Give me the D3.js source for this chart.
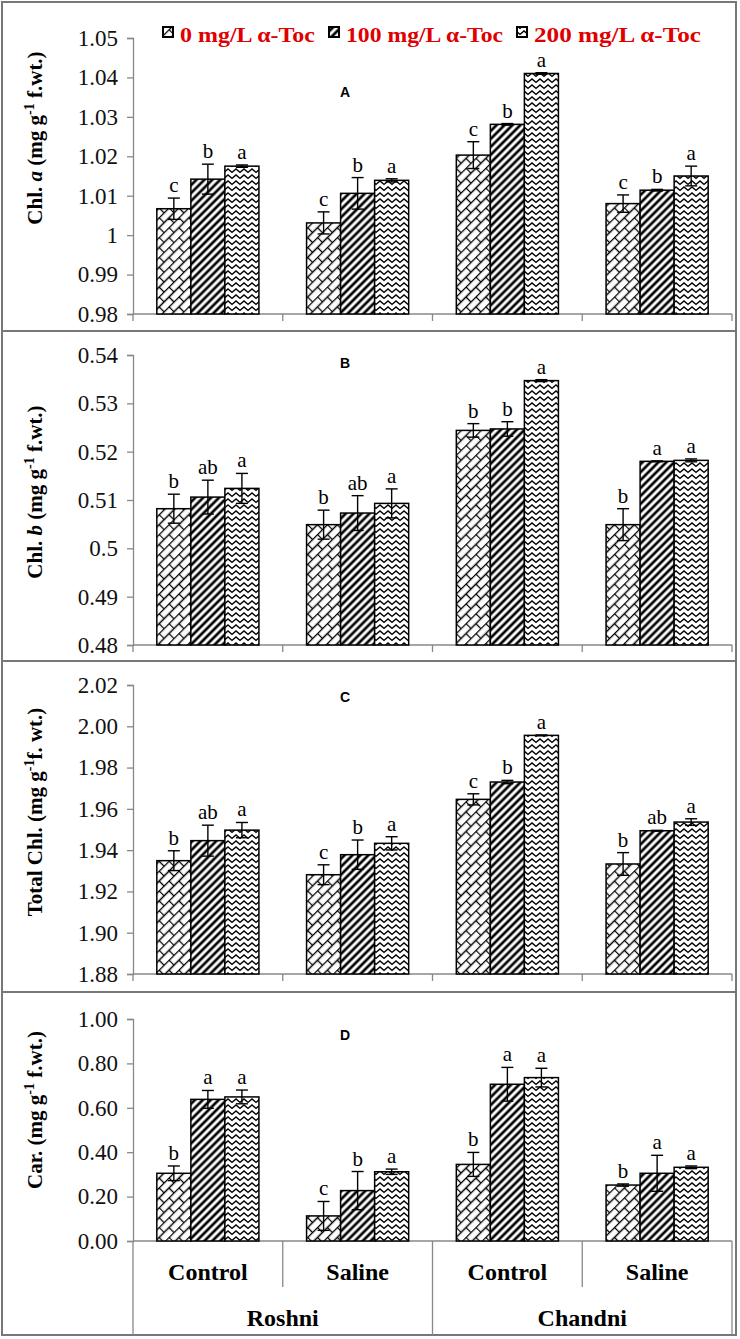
<!DOCTYPE html>
<html>
<head>
<meta charset="utf-8">
<script src="https://cdn.jsdelivr.net/npm/d3@7"></script>
<style>
  body { margin: 0; background: #fff; }
  svg text { font-family: "Liberation Serif", "Times New Roman", Times, "DejaVu Serif", serif; }
  svg text.sans { font-family: "Liberation Sans", Arial, sans-serif; }
</style>
</head>
<body>
<div id="chart"></div>
<script>
// categories
const groups = ['Roshni', 'Chandni'];
const conditions = ['Control', 'Saline', 'Control', 'Saline'];
const doses = ['0 mg/L α-Toc', '100 mg/L α-Toc', '200 mg/L α-Toc'];

// A: Chl. a
const chlA = [[1.0067, 1.0142, 1.0175], [1.0031, 1.0106, 1.0139], [1.0203, 1.0281, 1.0410], [1.0080, 1.0114, 1.0150]];
const chlAErr = [[0.0027, 0.0038, 0.0003], [0.0028, 0.0040, 0.0004], [0.0034, 0.0002, 0.0002], [0.0022, 0.0002, 0.0025]];
const chlALetters = [['c', 'b', 'a'], ['c', 'b', 'a'], ['c', 'b', 'a'], ['c', 'b', 'a']];
const ticksA = ['0.98', '0.99', '1', '1.01', '1.02', '1.03', '1.04', '1.05'];

// B: Chl. b
const chlB = [[0.5082, 0.5106, 0.5124], [0.5049, 0.5073, 0.5093], [0.5244, 0.5247, 0.5347], [0.5049, 0.5180, 0.5182]];
const chlBErr = [[0.0030, 0.0035, 0.0031], [0.0030, 0.0036, 0.0030], [0.0014, 0.0015, 0.0002], [0.0033, 0.0001, 0.0003]];
const chlBLetters = [['b', 'ab', 'a'], ['b', 'ab', 'a'], ['b', 'b', 'a'], ['b', 'a', 'a']];
const ticksB = ['0.48', '0.49', '0.5', '0.51', '0.52', '0.53', '0.54'];

// C: Total Chl.
const chlT = [[1.9349, 1.9446, 1.9497], [1.9281, 1.9378, 1.9433], [1.9646, 1.9730, 1.9956], [1.9333, 1.9494, 1.9536]];
const chlTErr = [[0.0048, 0.0075, 0.0037], [0.0048, 0.0071, 0.0032], [0.0027, 0.0008, 0.0002], [0.0055, 0.0002, 0.0016]];
const chlTLetters = [['b', 'ab', 'a'], ['c', 'b', 'a'], ['c', 'b', 'a'], ['b', 'ab', 'a']];
const ticksC = ['1.88', '1.90', '1.92', '1.94', '1.96', '1.98', '2.00', '2.02'];

// D: Carotenoids
const car = [[0.305, 0.638, 0.649], [0.113, 0.227, 0.312], [0.345, 0.706, 0.736], [0.252, 0.305, 0.332]];
const carErr = [[0.033, 0.040, 0.031], [0.065, 0.086, 0.012], [0.054, 0.076, 0.042], [0.005, 0.081, 0.006]];
const carLetters = [['b', 'a', 'a'], ['c', 'b', 'a'], ['b', 'a', 'a'], ['b', 'a', 'a']];
const ticksD = ['0.00', '0.20', '0.40', '0.60', '0.80', '1.00'];

const W = 740, H = 1339;
const x0 = 133, x1 = 732;
const patterns = ['brick', 'diag', 'zig'];

const panels = [
  {title: 'A', values: chlA, errors: chlAErr, letters: chlALetters, ticks: ticksA,
   top: 38, bottom: 314, titleY: 97, labelY: 138,
   label: [['Chl. ', ''], ['a', 'italic'], [' (mg g', ''], ['-1', 'sup'], [' f.wt.)', '']]},
  {title: 'B', values: chlB, errors: chlBErr, letters: chlBLetters, ticks: ticksB,
   top: 355, bottom: 645, titleY: 368, labelY: 492,
   label: [['Chl. ', ''], ['b', 'italic'], [' (mg g', ''], ['-1', 'sup'], [' f.wt.)', '']]},
  {title: 'C', values: chlT, errors: chlTErr, letters: chlTLetters, ticks: ticksC,
   top: 685, bottom: 974, titleY: 702, labelY: 812,
   label: [['Total Chl. (mg g', ''], ['-1', 'sup'], ['f. wt.)', '']]},
  {title: 'D', values: car, errors: carErr, letters: carLetters, ticks: ticksD,
   top: 1019, bottom: 1241, titleY: 1040, labelY: 1110,
   label: [['Car. (mg g', ''], ['-1', 'sup'], [' f.wt.)', '']]}
];

const svg = d3.select('#chart').append('svg')
    .attr('width', W)
    .attr('height', H);

// fill patterns
const defs = svg.append('defs');
const brick = defs.append('pattern')
    .attr('id', 'brick')
    .attr('patternUnits', 'userSpaceOnUse')
    .attr('width', 14).attr('height', 14)
    .attr('patternTransform', 'rotate(-45)');
brick.append('rect').attr('width', 14).attr('height', 14).attr('fill', '#fff');
brick.append('path')
    .attr('d', 'M0,0.5H14M0,7.5H14M0.5,0.5V7.5M7.5,7.5V14')
    .attr('stroke', '#000').attr('stroke-width', 1.3).attr('fill', 'none');

const diag = defs.append('pattern')
    .attr('id', 'diag')
    .attr('patternUnits', 'userSpaceOnUse')
    .attr('width', 5.6).attr('height', 5.6)
    .attr('patternTransform', 'rotate(45)');
diag.append('rect').attr('width', 5.6).attr('height', 5.6).attr('fill', '#fff');
diag.append('line')
    .attr('x1', 2.8).attr('x2', 2.8).attr('y1', 0).attr('y2', 5.6)
    .attr('stroke', '#000').attr('stroke-width', 2.7);

const zig = defs.append('pattern')
    .attr('id', 'zig')
    .attr('patternUnits', 'userSpaceOnUse')
    .attr('width', 8).attr('height', 6);
zig.append('rect').attr('width', 8).attr('height', 6).attr('fill', '#fff');
zig.append('path')
    .attr('d', 'M-1,5.2L4,1L9,5.2')
    .attr('stroke', '#000').attr('stroke-width', 1.5).attr('fill', 'none');

// frame and panel separators
svg.append('rect')
    .attr('x', 2).attr('y', 2).attr('width', 734).attr('height', 1333)
    .attr('fill', 'none').attr('stroke', '#777').attr('stroke-width', 2);
svg.selectAll('.sep')
    .data([331, 661, 992])
  .enter()
    .append('line')
    .attr('x1', 2).attr('x2', 736)
    .attr('y1', d => d).attr('y2', d => d)
    .attr('stroke', '#777').attr('stroke-width', 2);

const xCat = d3.scaleBand().domain(d3.range(conditions.length)).range([x0, x1]);
const xDose = d3.scaleBand().domain(d3.range(doses.length))
    .range([0, xCat.bandwidth()]).paddingInner(0).paddingOuter(0.7);

panels.forEach((p, pi) => {
  const tickVals = p.ticks.map(Number);
  const y = d3.scaleLinear().domain(d3.extent(tickVals)).range([p.bottom, p.top]);
  const g = svg.append('g');

  // y axis
  const yAxis = g.append('g')
      .attr('transform', `translate(${x0},0)`)
      .call(d3.axisLeft(y).tickValues(tickVals).tickFormat((d, i) => p.ticks[i]).tickSize(6).tickPadding(9));
  yAxis.attr('font-family', null);
  yAxis.select('.domain').attr('stroke', '#888').attr('stroke-width', 1.3);
  yAxis.selectAll('.tick line').attr('stroke', '#888').attr('stroke-width', 1.3);
  yAxis.selectAll('.tick text')
      .attr('font-size', 23)
      .attr('fill', '#111');

  // x axis line
  g.append('line')
      .attr('x1', x0).attr('x2', x1)
      .attr('y1', p.bottom).attr('y2', p.bottom)
      .attr('stroke', '#888').attr('stroke-width', 1.3);

  if (pi < 3) {
    g.selectAll('.xtick')
        .data(d3.range(conditions.length + 1))
      .enter()
        .append('line')
        .attr('x1', d => x0 + d * xCat.step()).attr('x2', d => x0 + d * xCat.step())
        .attr('y1', p.bottom).attr('y2', p.bottom + 7)
        .attr('stroke', '#888').attr('stroke-width', 1.3);
  }

  // bars
  const rows = [];
  p.values.forEach((vals, ci) => vals.forEach((v, di) => {
    rows.push({ci, di, v, e: p.errors[ci][di], l: p.letters[ci][di]});
  }));
  const bx = d => xCat(d.ci) + xDose(d.di);
  const bw = xDose.bandwidth();

  g.selectAll('.bar')
      .data(rows)
    .enter()
      .append('rect')
      .attr('x', bx)
      .attr('y', d => y(d.v))
      .attr('width', bw)
      .attr('height', d => p.bottom - y(d.v))
      .attr('fill', d => `url(#${patterns[d.di]})`)
      .attr('stroke', '#000').attr('stroke-width', 1.5);

  // error bars
  const eb = g.selectAll('.err')
      .data(rows)
    .enter()
      .append('g');
  eb.append('line')
      .attr('x1', d => bx(d) + bw / 2).attr('x2', d => bx(d) + bw / 2)
      .attr('y1', d => y(d.v + d.e)).attr('y2', d => y(d.v - d.e));
  eb.append('line')
      .attr('x1', d => bx(d) + bw / 2 - 6).attr('x2', d => bx(d) + bw / 2 + 6)
      .attr('y1', d => y(d.v + d.e)).attr('y2', d => y(d.v + d.e));
  eb.append('line')
      .attr('x1', d => bx(d) + bw / 2 - 6).attr('x2', d => bx(d) + bw / 2 + 6)
      .attr('y1', d => y(d.v - d.e)).attr('y2', d => y(d.v - d.e));
  eb.selectAll('line').attr('stroke', '#000').attr('stroke-width', 1.4);

  // significance letters
  g.selectAll('.sig')
      .data(rows)
    .enter()
      .append('text')
      .attr('x', d => bx(d) + bw / 2)
      .attr('y', d => y(d.v + d.e) - 6)
      .attr('text-anchor', 'middle')
      .attr('font-size', 21)
      .text(d => d.l);

  // panel title
  g.append('text')
      .attr('class', 'sans')
      .attr('x', 345).attr('y', p.titleY)
      .attr('text-anchor', 'middle')
      .attr('font-weight', 'bold')
      .attr('font-size', 14)
      .text(p.title);

  // y label
  const lab = g.append('text')
      .attr('transform', `translate(42,${p.labelY}) rotate(-90)`)
      .attr('text-anchor', 'middle')
      .attr('font-weight', 'bold')
      .attr('font-size', 21);
  let prevSup = false;
  p.label.forEach(([t, s]) => {
    const ts = lab.append('tspan').text(t);
    if (s === 'italic') ts.attr('font-style', 'italic');
    if (s === 'sup') ts.attr('font-size', 14).attr('dy', -8);
    else if (prevSup) ts.attr('dy', 8);
    prevSup = s === 'sup';
  });

  // category axis on the last panel
  if (pi === 3) {
    g.selectAll('.catline')
        .data(d3.range(conditions.length + 1))
      .enter()
        .append('line')
        .attr('x1', d => x0 + d * xCat.step()).attr('x2', d => x0 + d * xCat.step())
        .attr('y1', p.bottom)
        .attr('y2', d => d % 2 === 0 ? 1335 : 1287)
        .attr('stroke', '#888').attr('stroke-width', 1.3);
    g.selectAll('.cat')
        .data(conditions)
      .enter()
        .append('text')
        .attr('x', (d, i) => xCat(i) + xCat.bandwidth() / 2)
        .attr('y', 1280)
        .attr('text-anchor', 'middle')
        .attr('font-weight', 'bold')
        .attr('font-size', 24)
        .text(d => d);
    g.selectAll('.grp')
        .data(groups)
      .enter()
        .append('text')
        .attr('x', (d, i) => x0 + (i * 2 + 1) * xCat.step())
        .attr('y', 1326)
        .attr('text-anchor', 'middle')
        .attr('font-weight', 'bold')
        .attr('font-size', 24)
        .text(d => d);
  }
});

// legend: icon x positions and text widths as laid out in the figure
const legendX = [163, 329, 517];
const legendW = [135, 157, 167];
const legend = svg.append('g');
doses.forEach((d, i) => {
  legend.append('rect')
      .attr('x', legendX[i]).attr('y', 27).attr('width', 10).attr('height', 10)
      .attr('fill', `url(#${patterns[i]})`)
      .attr('stroke', '#000').attr('stroke-width', 2);
  legend.append('text')
      .attr('x', legendX[i] + 17).attr('y', 42)
      .attr('font-weight', 'bold')
      .attr('font-size', 21)
      .attr('fill', '#e00000')
      .attr('textLength', legendW[i])
      .attr('lengthAdjust', 'spacingAndGlyphs')
      .text(d);
});
</script>
</body>
</html>
